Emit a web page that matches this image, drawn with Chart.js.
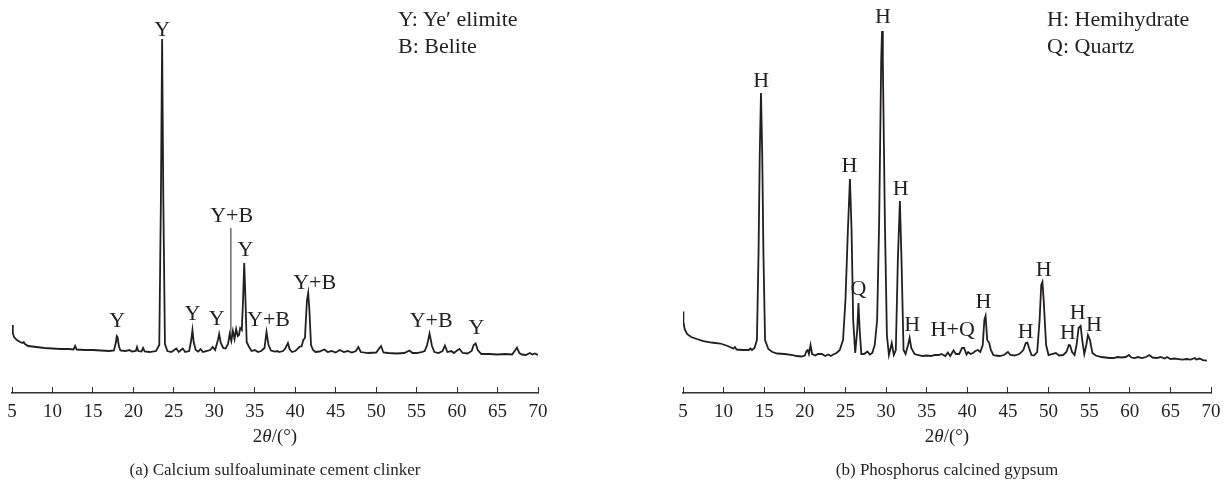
<!DOCTYPE html>
<html>
<head>
<meta charset="utf-8">
<script src="https://cdn.jsdelivr.net/npm/chart.js@4/dist/chart.umd.min.js"></script>
<style>
  body { margin: 0; background: #fff; width: 1228px; height: 490px; position: relative; overflow: hidden; }
  canvas { position: absolute; top: 0; }
  #chartA { left: 0; }
  #chartB { left: 640px; }
  .key { position: absolute; top: 5px; font: 22px "Liberation Serif", serif; line-height: 27px; color: #231f20; white-space: nowrap; }
</style>
</head>
<body>
<canvas id="chartA" width="554" height="490"></canvas>
<canvas id="chartB" width="586" height="490"></canvas>
<div class="key" style="left:398px">Y: Ye′ elimite<br>B: Belite</div>
<div class="key" style="left:1047px">H: Hemihydrate<br>Q: Quartz</div>

<script>
// x axis ticks, 2theta in degrees
const xTicks = [5, 10, 15, 20, 25, 30, 35, 40, 45, 50, 55, 60, 65, 70];

// (a) clinker pattern, intensity in a.u.
const clinkerAngle = [5.0, 5.1, 5.25, 5.6, 6.0, 6.3, 6.45, 6.6, 7.0, 8.0, 9.0, 10.0, 11.0, 12.0, 12.6, 12.8, 13.0, 14.0, 15.0, 16.0,
  17.0, 17.6, 17.85, 17.95, 18.05, 18.2, 18.4, 19.0, 19.5, 19.8, 20.3, 20.45, 20.6, 21.0, 21.2, 21.4, 22.0, 22.8, 23.2, 23.4,
  23.55, 23.7, 23.9, 24.2, 24.7, 25.3, 25.6, 26.1, 26.4, 26.9, 27.15, 27.3, 27.45, 27.7, 28.0, 28.3, 28.6, 29.0, 29.5, 29.8,
  30.1, 30.45, 30.6, 30.8, 31.1, 31.4, 31.7, 31.9, 32.1, 32.3, 32.5, 32.7, 32.9, 33.05, 33.2, 33.4, 33.55, 33.7, 33.85, 34.0,
  34.3, 34.6, 35.0, 35.4, 35.8, 36.2, 36.45, 36.7, 37.0, 37.5, 37.8, 38.0, 38.5, 38.8, 39.1, 39.3, 39.6, 40.0, 40.5, 40.8,
  41.0, 41.2, 41.45, 41.6, 41.75, 41.95, 42.2, 42.5, 43.0, 43.6, 44.0, 44.5, 45.0, 45.5, 46.0, 46.5, 47.0, 47.5, 47.8, 48.1,
  49.0, 50.0, 50.6, 50.9, 51.5, 52.5, 53.5, 54.1, 54.5, 55.0, 55.6, 56.0, 56.3, 56.6, 56.9, 57.2, 57.7, 58.2, 58.5, 58.8,
  59.3, 59.6, 60.0, 60.3, 60.7, 61.3, 61.8, 62.05, 62.3, 62.55, 63.0, 64.0, 65.0, 66.0, 66.8, 67.2, 67.4, 67.7, 68.0, 68.5,
  69.0, 69.3, 69.6, 70.0];
const clinkerCounts = [68, 60, 56, 53, 51, 50, 51, 49, 47, 46, 45, 44.5, 44, 44, 43.5, 47, 43.5, 43, 43, 42.5,
  42, 42.5, 51, 57, 56, 47, 42.5, 42, 43, 41.5, 42, 46, 42, 41.5, 45, 41.5, 41, 42, 48, 193,
  354, 193, 49, 42, 41, 44.5, 41, 44.5, 41, 42, 53, 63, 51, 43, 41.5, 44, 41, 42, 43, 46,
  43, 53, 59, 50, 45, 44.5, 49, 59, 52, 62, 54, 64, 57, 58, 65, 63, 93, 130, 93, 51,
  46, 42, 43, 41, 42, 45, 61, 48, 42.5, 41.5, 42, 41, 42, 45, 50, 44, 41, 42, 46, 47,
  53, 55, 93, 100, 83, 48, 43, 41, 41.5, 43.5, 41, 42, 40.5, 43, 41, 42, 40.5, 42, 46, 41,
  40, 40.5, 47, 40.5, 40, 39.5, 40, 42.5, 40, 40, 41, 42, 48, 59.5, 47, 41, 40, 42, 47.5, 41,
  42, 40, 42.5, 44, 40, 39.5, 42, 48, 49.5, 43, 39, 39, 38.5, 39, 38.5, 43, 45.5, 40, 38.5, 38,
  40, 38.5, 39.5, 38];

// leader line under the "Y+B" mark at 32 deg
const clinkerLeaderAngle = [32.05, 32.05];
const clinkerLeaderCounts = [55, 165];

// phase marks for (a)
const clinkerMarks = ['Y', 'Y', 'Y', 'Y', 'Y+B', 'Y', 'Y+B', 'Y+B', 'Y+B', 'Y'];
const clinkerMarkAngle = [18.0, 23.55, 27.3, 30.3, 32.15, 33.85, 36.7, 42.4, 56.8, 62.4];
const clinkerMarkCounts = [72, 363, 79, 74, 177, 143, 73, 110, 72, 65];

// (b) phosphorus calcined gypsum pattern
const gypsumAngle = [5.0, 5.05, 5.2, 5.5, 6.0, 6.7, 7.5, 8.5, 9.6, 10.5, 11.2, 11.4, 11.6, 12.3, 13.1, 13.3, 13.5, 13.8, 14.1, 14.3,
  14.45, 14.6, 14.75, 14.9, 15.1, 15.5, 16.0, 16.6, 17.5, 18.5, 19.0, 19.6, 20.0, 20.2, 20.35, 20.5, 20.7, 20.9, 21.3, 21.6,
  22.1, 22.5, 22.9, 23.2, 23.5, 23.9, 24.3, 24.7, 25.0, 25.3, 25.55, 25.75, 25.95, 26.2, 26.45, 26.6, 26.75, 26.95, 27.3, 27.7,
  28.0, 28.3, 28.6, 28.9, 29.15, 29.4, 29.5, 29.6, 29.85, 30.1, 30.35, 30.7, 30.95, 31.2, 31.45, 31.7, 31.9, 32.15, 32.4, 32.7,
  32.9, 33.1, 33.5, 34.0, 34.5, 35.0, 35.5, 36.0, 36.5, 36.8, 37.3, 37.6, 37.9, 38.3, 38.6, 39.0, 39.35, 39.6, 39.9, 40.1,
  40.4, 40.7, 41.0, 41.3, 41.6, 41.9, 42.1, 42.25, 42.45, 42.7, 42.9, 43.2, 43.5, 44.0, 44.5, 45.0, 45.3, 45.8, 46.4, 46.9,
  47.2, 47.4, 47.6, 47.9, 48.2, 48.6, 48.9, 49.1, 49.25, 49.4, 49.7, 50.0, 50.4, 50.9, 51.3, 51.8, 52.2, 52.5, 52.65, 52.9,
  53.2, 53.45, 53.7, 53.95, 54.15, 54.4, 54.65, 54.85, 55.1, 55.4, 55.8, 56.5, 57.0, 57.5, 58.0, 58.5, 59.0, 59.5, 59.9, 60.2,
  60.6, 61.0, 61.5, 62.0, 62.4, 62.8, 63.3, 63.8, 64.3, 64.6, 65.0, 65.5, 66.0, 66.5, 67.0, 67.5, 68.0, 68.2, 68.6, 69.0,
  69.5];
const gypsumCounts = [81.5, 71, 64, 59, 56, 54, 52, 50.5, 49.5, 47, 44.5, 46, 43.5, 43, 43, 44.5, 43, 45, 53, 140,
  240, 300, 240, 140, 53, 44, 41, 39.5, 39, 38, 37, 36.5, 37.5, 42, 43, 39, 48, 39, 37.5, 39,
  39, 37, 38.5, 37, 38.5, 40, 43, 53, 93, 163, 214, 163, 73, 40, 63, 90, 63, 39, 39, 41.5,
  38.5, 40, 48, 73, 173, 333, 362, 333, 173, 58, 38, 50, 38, 43, 133, 192, 133, 43, 39, 48,
  55, 45, 39, 38, 37, 37.5, 37, 38, 38, 39, 37, 40.5, 37, 42.5, 39, 39, 45, 45, 38.5, 41,
  39, 40, 42, 43, 41, 48, 73, 77, 53, 50, 43, 38, 37.5, 37, 38, 41, 38, 37.5, 39, 43,
  50, 50.5, 45, 38, 37.5, 41, 73, 108, 111, 93, 48, 38, 39, 40, 37.5, 38, 41, 48, 47.5, 41,
  38, 48, 65, 67, 53, 39, 48, 58, 53, 40, 37.5, 36, 35.5, 35, 35, 36, 35.5, 36, 38, 35.5,
  35, 36, 35, 36, 38, 35.5, 35, 36, 34.5, 36, 34, 34.5, 34, 33.5, 34, 33.5, 35, 33.5, 34.5, 33,
  32.5];

// phase marks for (b)
const gypsumMarks = ['H', 'H', 'Q', 'H', 'H', 'H', 'H+Q', 'H', 'H', 'H', 'H', 'H', 'H'];
const gypsumMarkAngle = [14.64, 25.5, 26.6, 29.6, 31.8, 33.2, 38.2, 42.0, 47.2, 49.4, 52.4, 53.6, 55.6];
const gypsumMarkCounts = [312, 227, 104, 376, 204, 68, 63, 91, 61, 123, 60, 80, 68];

const ink = '#231f20';
const serif = '"Liberation Serif", "Times New Roman", serif';

function toPoints(xs, ys) {
    return xs.map((x, i) => ({ x: x, y: ys[i] }));
}

// writes the phase letters above the peaks
const markPlugin = {
    id: 'marks',
    afterDatasetsDraw(chart, args, opts) {
        const ctx = chart.ctx;
        const sx = chart.scales.x;
        const sy = chart.scales.y;
        ctx.save();
        ctx.fillStyle = ink;
        ctx.font = '22px ' + serif;
        ctx.textAlign = 'center';
        ctx.textBaseline = 'middle';
        opts.text.forEach((t, i) => {
            ctx.fillText(t, sx.getPixelForValue(opts.angle[i]), sy.getPixelForValue(opts.counts[i]));
        });
        ctx.restore();
    }
};

// axis title with italic theta, drawn where the scale title sits
const thetaTitle = {
    id: 'thetaTitle',
    afterDraw(chart) {
        const ctx = chart.ctx;
        const sx = chart.scales.x;
        const y = sx.bottom - 11.4;
        const parts = [['2', ''], ['θ', 'italic '], ['/(°)', '']];
        ctx.save();
        ctx.fillStyle = ink;
        ctx.textBaseline = 'middle';
        ctx.textAlign = 'left';
        let w = 0;
        parts.forEach(p => { ctx.font = p[1] + '19px ' + serif; w += ctx.measureText(p[0]).width; });
        let x = (sx.left + sx.right) / 2 - w / 2;
        parts.forEach(p => {
            ctx.font = p[1] + '19px ' + serif;
            ctx.fillText(p[0], x, y);
            x += ctx.measureText(p[0]).width;
        });
        ctx.restore();
    }
};

function makeChart(id, datasets, marks, caption, padLeft, padRight) {
    return new Chart(document.getElementById(id), {
        type: 'line',
        data: { datasets: datasets },
        options: {
            responsive: false,
            animation: false,
            events: [],
            layout: { padding: { left: padLeft, right: padRight, top: 0, bottom: 0 } },
            elements: { point: { radius: 0 }, line: { tension: 0 } },
            scales: {
                x: {
                    type: 'linear',
                    min: 5,
                    max: 70,
                    afterBuildTicks: axis => { axis.ticks = xTicks.map(v => ({ value: v })); },
                    border: { display: true, color: '#333', width: 1.5 },
                    grid: { drawOnChartArea: false, drawTicks: true, tickLength: -6, color: '#333', lineWidth: 1 },
                    ticks: { padding: 2, color: ink, font: { family: serif, size: 19, lineHeight: 2.42 }, maxRotation: 0 },
                    title: { display: true, text: '2θ/(°)', color: 'rgba(0,0,0,0)', font: { family: serif, size: 19 }, padding: { top: -11.4, bottom: 0 } }
                },
                y: { type: 'linear', display: false, min: 0, max: 393 }
            },
            plugins: {
                legend: { display: false },
                tooltip: { enabled: false },
                title: {
                    display: true,
                    position: 'bottom',
                    text: caption,
                    color: ink,
                    font: { family: serif, size: 17, weight: 'normal' },
                    padding: { top: 12.4, bottom: 8.8 }
                },
                marks: marks
            }
        },
        plugins: [markPlugin, thetaTitle]
    });
}

makeChart('chartA', [
    { data: toPoints(clinkerAngle, clinkerCounts), borderColor: ink, borderWidth: 1.8, fill: false },
    { data: toPoints(clinkerLeaderAngle, clinkerLeaderCounts), borderColor: ink, borderWidth: 1, fill: false }
], { text: clinkerMarks, angle: clinkerMarkAngle, counts: clinkerMarkCounts },
'(a) Calcium sulfoaluminate cement clinker', 12, 16);

makeChart('chartB', [
    { data: toPoints(gypsumAngle, gypsumCounts), borderColor: ink, borderWidth: 1.8, fill: false }
], { text: gypsumMarks, angle: gypsumMarkAngle, counts: gypsumMarkCounts },
'(b) Phosphorus calcined gypsum', 43, 15);
</script>
</body>
</html>
